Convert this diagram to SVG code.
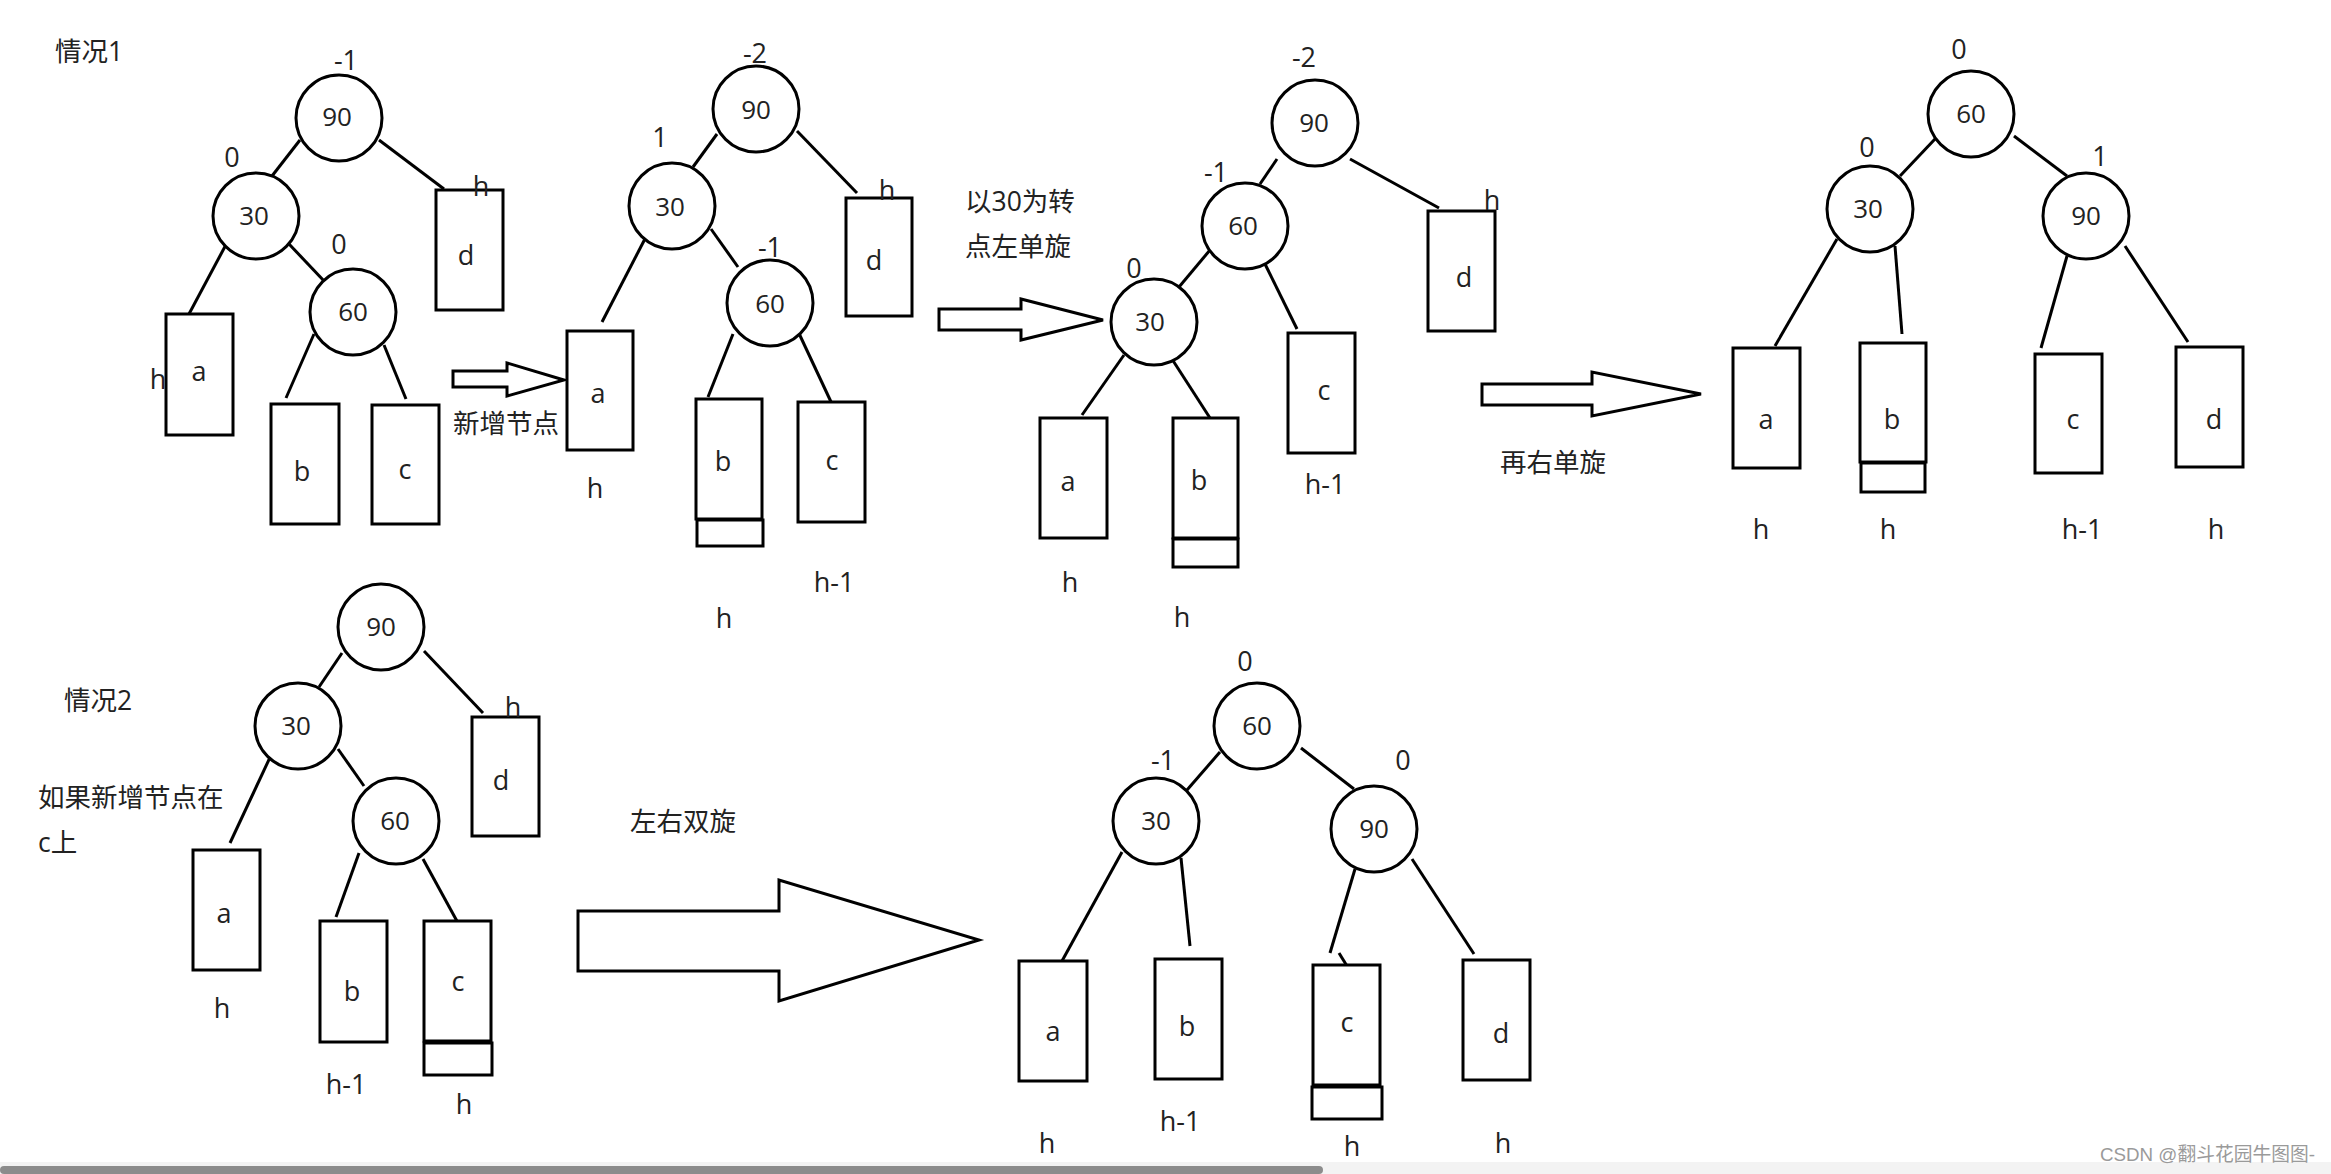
<svg xmlns="http://www.w3.org/2000/svg" width="2331" height="1174" viewBox="0 0 2331 1174">
<style>
text{font-family:"Open Sans","Noto Sans CJK SC",sans-serif;fill:#222;font-size:27px}
.m{text-anchor:middle}
.n{font-size:26px;text-anchor:middle}
.cn{font-size:26.5px}
circle,rect.b,polygon{fill:#fff;stroke:#000;stroke-width:3}
line{stroke:#000;stroke-width:3}
</style>
<rect x="0" y="0" width="2331" height="1174" fill="#fff"/>

<g id="labels-case1"><text x="55" y="61" class="cn">情况1</text></g>
<g id="connectors">
<line x1="300" y1="140" x2="272" y2="176"/>
<line x1="379" y1="140" x2="444" y2="189"/>
<line x1="229" y1="239" x2="189" y2="314"/>
<line x1="289" y1="244" x2="325" y2="282"/>
<line x1="314" y1="334" x2="286" y2="398"/>
<line x1="384" y1="345" x2="406" y2="399"/>

<line x1="717" y1="134" x2="693" y2="167"/>
<line x1="797" y1="131" x2="857" y2="193"/>
<line x1="648" y1="233" x2="602" y2="322"/>
<line x1="711" y1="229" x2="738" y2="267"/>
<line x1="733" y1="334" x2="708" y2="397"/>
<line x1="796" y1="327" x2="832" y2="404"/>

<line x1="1277" y1="159" x2="1260" y2="184"/>
<line x1="1350" y1="159" x2="1439" y2="208"/>
<line x1="1210" y1="250" x2="1174" y2="293"/>
<line x1="1265" y1="264" x2="1297" y2="329"/>
<line x1="1124" y1="355" x2="1082" y2="415"/>
<line x1="1170" y1="356" x2="1210" y2="418"/>

<line x1="1935" y1="139" x2="1900" y2="176"/>
<line x1="2014" y1="136" x2="2067" y2="176"/>
<line x1="1837" y1="239" x2="1775" y2="346"/>
<line x1="1895" y1="246" x2="1902" y2="334"/>
<line x1="2067" y1="256" x2="2041" y2="348"/>
<line x1="2125" y1="246" x2="2188" y2="342"/>

<line x1="342" y1="653" x2="319" y2="687"/>
<line x1="424" y1="651" x2="483" y2="713"/>
<line x1="273" y1="751" x2="230" y2="843"/>
<line x1="338" y1="749" x2="364" y2="786"/>
<line x1="359" y1="853" x2="336" y2="917"/>
<line x1="423" y1="859" x2="458" y2="923"/>

<line x1="1220" y1="752" x2="1187" y2="790"/>
<line x1="1301" y1="748" x2="1354" y2="789"/>
<line x1="1122" y1="852" x2="1062" y2="961"/>
<line x1="1181" y1="858" x2="1190" y2="946"/>
<line x1="1355" y1="869" x2="1330" y2="953"/>
<line x1="1339" y1="953" x2="1347" y2="966"/>
<line x1="1412" y1="859" x2="1474" y2="954"/>
</g>

<g id="t1">
<g id="t1-90"><circle cx="339" cy="118" r="43"/><text x="337" y="126" class="n">90</text><text x="346" y="70" class="m">-1</text></g>
<g id="t1-30"><circle cx="256" cy="216" r="43"/><text x="254" y="225" class="n">30</text><text x="232" y="167" class="m">0</text></g>
<g id="t1-60"><circle cx="353" cy="312" r="43"/><text x="353" y="321" class="n">60</text><text x="339" y="254" class="m">0</text></g>
<g id="t1-d"><rect class="b" x="436" y="190" width="67" height="120"/><text x="466" y="265" class="m">d</text><text x="481" y="196" class="m">h</text></g>
<g id="t1-a"><rect class="b" x="166" y="314" width="67" height="121"/><text x="199" y="381" class="m">a</text><text x="158" y="389" class="m">h</text></g>
<g id="t1-b"><rect class="b" x="271" y="404" width="68" height="120"/><text x="302" y="481" class="m">b</text></g>
<g id="t1-c"><rect class="b" x="372" y="405" width="67" height="119"/><text x="405" y="479" class="m">c</text></g>
</g>
<g id="arrow1"><polygon points="453,371 507,371 507,363 564,380 507,396 507,387 453,387"/><text x="453" y="433" class="cn">新增节点</text></g>

<g id="t2">
<g id="t2-90"><circle cx="756" cy="109" r="43"/><text x="756" y="119" class="n">90</text><text x="755" y="63" class="m">-2</text></g>
<g id="t2-30"><circle cx="672" cy="206" r="43"/><text x="670" y="216" class="n">30</text><text x="660" y="147" class="m">1</text></g>
<g id="t2-60"><circle cx="770" cy="303" r="43"/><text x="770" y="313" class="n">60</text><text x="770" y="257" class="m">-1</text></g>
<g id="t2-d"><rect class="b" x="846" y="198" width="66" height="118"/><text x="874" y="270" class="m">d</text><text x="887" y="200" class="m">h</text></g>
<g id="t2-a"><rect class="b" x="567" y="331" width="66" height="119"/><text x="598" y="403" class="m">a</text><text x="595" y="498" class="m">h</text></g>
<g id="t2-b"><rect class="b" x="696" y="399" width="66" height="120"/><rect class="b" x="697" y="520" width="66" height="26"/><text x="723" y="471" class="m">b</text><text x="724" y="628" class="m">h</text></g>
<g id="t2-c"><rect class="b" x="798" y="402" width="67" height="120"/><text x="832" y="470" class="m">c</text><text x="834" y="592" class="m">h-1</text></g>
</g>
<g id="arrow2"><polygon points="939,309 1021,309 1021,299 1103,320 1021,340 1021,330 939,330"/><text x="965" y="211" class="cn">以30为转</text><text x="965" y="256" class="cn">点左单旋</text></g>

<g id="t3">
<g id="t3-90"><circle cx="1315" cy="123" r="43"/><text x="1314" y="132" class="n">90</text><text x="1304" y="67" class="m">-2</text></g>
<g id="t3-60"><circle cx="1245" cy="226" r="43"/><text x="1243" y="235" class="n">60</text><text x="1216" y="182" class="m">-1</text></g>
<g id="t3-30"><circle cx="1154" cy="322" r="43"/><text x="1150" y="331" class="n">30</text><text x="1134" y="278" class="m">0</text></g>
<g id="t3-d"><rect class="b" x="1428" y="211" width="67" height="120"/><text x="1464" y="287" class="m">d</text><text x="1492" y="210" class="m">h</text></g>
<g id="t3-c"><rect class="b" x="1288" y="333" width="67" height="120"/><text x="1324" y="400" class="m">c</text><text x="1325" y="494" class="m">h-1</text></g>
<g id="t3-a"><rect class="b" x="1040" y="418" width="67" height="120"/><text x="1068" y="491" class="m">a</text><text x="1070" y="592" class="m">h</text></g>
<g id="t3-b"><rect class="b" x="1173" y="418" width="65" height="120"/><rect class="b" x="1173" y="539" width="65" height="28"/><text x="1199" y="490" class="m">b</text><text x="1182" y="627" class="m">h</text></g>
</g>
<g id="arrow3"><polygon points="1482,384 1592,384 1592,372 1701,394 1592,416 1592,405 1482,405"/><text x="1500" y="472" class="cn">再右单旋</text></g>

<g id="t4">
<g id="t4-60"><circle cx="1971" cy="114" r="43"/><text x="1971" y="123" class="n">60</text><text x="1959" y="59" class="m">0</text></g>
<g id="t4-30"><circle cx="1870" cy="209" r="43"/><text x="1868" y="218" class="n">30</text><text x="1867" y="157" class="m">0</text></g>
<g id="t4-90"><circle cx="2086" cy="216" r="43"/><text x="2086" y="225" class="n">90</text><text x="2100" y="166" class="m">1</text></g>
<g id="t4-a"><rect class="b" x="1733" y="348" width="67" height="120"/><text x="1766" y="429" class="m">a</text><text x="1761" y="539" class="m">h</text></g>
<g id="t4-b"><rect class="b" x="1860" y="343" width="66" height="119"/><rect class="b" x="1861" y="463" width="64" height="29"/><text x="1892" y="429" class="m">b</text><text x="1888" y="539" class="m">h</text></g>
<g id="t4-c"><rect class="b" x="2035" y="354" width="67" height="119"/><text x="2073" y="429" class="m">c</text><text x="2082" y="539" class="m">h-1</text></g>
<g id="t4-d"><rect class="b" x="2176" y="347" width="67" height="120"/><text x="2214" y="429" class="m">d</text><text x="2216" y="539" class="m">h</text></g>
</g>

<g id="labels-case2"><text x="64" y="710" class="cn">情况2</text><text x="38" y="807" class="cn">如果新增节点在</text><text x="38" y="852" class="cn">c上</text></g>
<g id="t5">
<g id="t5-90"><circle cx="381" cy="627" r="43"/><text x="381" y="636" class="n">90</text></g>
<g id="t5-30"><circle cx="298" cy="726" r="43"/><text x="296" y="735" class="n">30</text></g>
<g id="t5-60"><circle cx="396" cy="821" r="43"/><text x="395" y="830" class="n">60</text></g>
<g id="t5-d"><rect class="b" x="472" y="717" width="67" height="119"/><text x="501" y="790" class="m">d</text><text x="513" y="717" class="m">h</text></g>
<g id="t5-a"><rect class="b" x="193" y="850" width="67" height="120"/><text x="224" y="923" class="m">a</text><text x="222" y="1018" class="m">h</text></g>
<g id="t5-b"><rect class="b" x="320" y="921" width="67" height="121"/><text x="352" y="1001" class="m">b</text><text x="346" y="1094" class="m">h-1</text></g>
<g id="t5-c"><rect class="b" x="424" y="921" width="67" height="120"/><rect class="b" x="424" y="1043" width="68" height="32"/><text x="458" y="991" class="m">c</text><text x="464" y="1114" class="m">h</text></g>
</g>
<g id="arrow4"><polygon points="578,911 779,911 779,880 979,940 779,1001 779,971 578,971"/><text x="630" y="831" class="cn">左右双旋</text></g>

<g id="t6">
<g id="t6-60"><circle cx="1257" cy="726" r="43"/><text x="1257" y="735" class="n">60</text><text x="1245" y="671" class="m">0</text></g>
<g id="t6-30"><circle cx="1156" cy="821" r="43"/><text x="1156" y="830" class="n">30</text><text x="1163" y="770" class="m">-1</text></g>
<g id="t6-90"><circle cx="1374" cy="829" r="43"/><text x="1374" y="838" class="n">90</text><text x="1403" y="770" class="m">0</text></g>
<g id="t6-a"><rect class="b" x="1019" y="961" width="68" height="120"/><text x="1053" y="1041" class="m">a</text><text x="1047" y="1153" class="m">h</text></g>
<g id="t6-b"><rect class="b" x="1155" y="959" width="67" height="120"/><text x="1187" y="1036" class="m">b</text><text x="1180" y="1131" class="m">h-1</text></g>
<g id="t6-c"><rect class="b" x="1313" y="965" width="67" height="120"/><rect class="b" x="1312" y="1087" width="70" height="32"/><text x="1347" y="1032" class="m">c</text><text x="1352" y="1156" class="m">h</text></g>
<g id="t6-d"><rect class="b" x="1463" y="960" width="67" height="120"/><text x="1501" y="1043" class="m">d</text><text x="1503" y="1153" class="m">h</text></g>
</g>

<g id="footer">
<rect x="0" y="1162" width="2331" height="12" fill="#f3f3f3"/>
<rect x="0" y="1166" width="1323" height="8" rx="4" fill="#8c8c8c"/>
<text x="2100" y="1161" style="font-family:'Liberation Sans','Noto Sans CJK SC',sans-serif;font-size:19px;fill:#9a9a9a" textLength="215" lengthAdjust="spacingAndGlyphs">CSDN @翻斗花园牛图图-</text>
</g>
</svg>
